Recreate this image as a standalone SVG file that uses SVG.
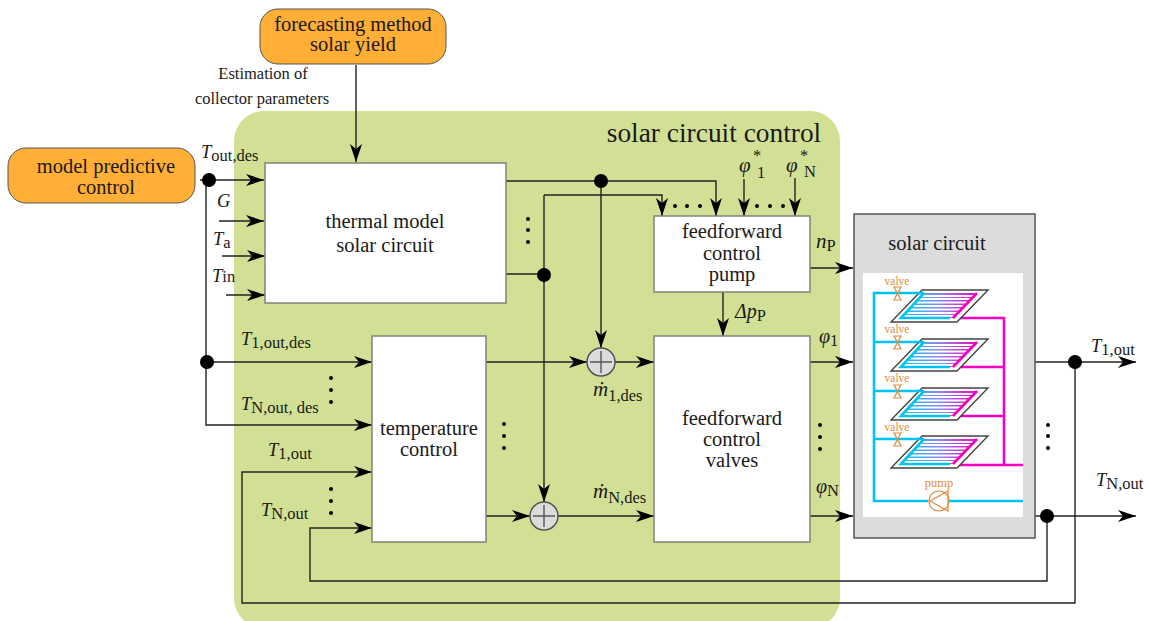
<svg xmlns="http://www.w3.org/2000/svg" xmlns:xlink="http://www.w3.org/1999/xlink" width="1150" height="621" viewBox="0 0 1150 621">
<style>
text{font-family:"Liberation Serif","Times New Roman",serif;fill:#1a1a1a;font-size:20.500px;text-anchor:middle}
.l{font-size:16.500px;text-anchor:start}
.i{font-style:italic;font-size:18.500px}
.s{font-size:16.500px}
.box{fill:#fff;stroke:#7f8478;stroke-width:1.5}
.org{fill:#ffae36;stroke:#555;stroke-width:1}
.w{fill:none;stroke:#222;stroke-width:1.4}
.a{marker-end:url(#arr)}
.dot{fill:#000}
.sum{fill:#dcdcdc;stroke:#555;stroke-width:1.5}
.pl{fill:none;stroke:#555;stroke-width:1.4}
.cy{fill:none;stroke:#00c3f5;stroke-width:2.6}
.mg{fill:none;stroke:#f500c0;stroke-width:2.6}
.or{fill:none;stroke:#e08a3c;stroke-width:1.2}
.ot{fill:#e08a3c;font-size:11.500px}
</style>
<defs>
<marker id="arr" markerUnits="userSpaceOnUse" markerWidth="20" markerHeight="14" refX="18" refY="7" orient="auto"><path d="M0 1 L18 7 L0 13 L5 7Z" fill="#000"/></marker>
<linearGradient id="g"><stop offset="0" stop-color="#00c8f8"/><stop offset=".5" stop-color="#8a8af0"/><stop offset="1" stop-color="#f800c0"/></linearGradient>
<g id="col">
<path d="M922 290H988L957 322H891Z" fill="#fff" stroke="#444" stroke-width="1.4"/>
<path d="M923 293H977L953 318H901Z" fill="url(#g)"/>
<path d="M920 296H973M917 299H970M914 302.500H967M911 306H964M908 309.500H961M905 313H957M902 316H954" stroke="#fff" stroke-width="1.9" fill="none"/>
<path d="M924 293L901 318H950" class="cy"/>
<path d="M977 293L953 318" class="mg"/>
</g>
</defs>
<rect x="234" y="111" width="606" height="517" rx="30" fill="#d2e096"/>
<g id="connectors">
<path class="w a" d="M356 65V162"/>
<path class="w a" d="M200 180H264"/>
<path class="w a" d="M206 180V425H372"/>
<path class="w a" d="M206 362H372"/>
<path class="w a" d="M219 221H264"/>
<path class="w a" d="M222 256H265"/>
<path class="w a" d="M226 295H265"/>
<path class="w a" d="M506 181H716V216"/>
<path class="w a" d="M601 181V348"/>
<path class="w" d="M506 274H544"/>
<path class="w a" d="M544 195H662V216"/>
<path class="w a" d="M544 195V502"/>
<path class="w a" d="M744 179V216"/>
<path class="w a" d="M795 178V216"/>
<path class="w a" d="M723 292V336"/>
<path class="w a" d="M810 268H853"/>
<path class="w a" d="M486 362H587"/>
<path class="w a" d="M615 362H654"/>
<path class="w a" d="M486 516H530"/>
<path class="w a" d="M558 516H654"/>
<path class="w a" d="M810 362H853"/>
<path class="w a" d="M810 516H853"/>
<path class="w a" d="M1035 362H1136"/>
<path class="w a" d="M1035 516H1136"/>
<path class="w a" d="M1075 362V603H242V472H372"/>
<path class="w a" d="M1047 516V581H310V528H372"/>
<circle class="dot" cx="209" cy="180" r="7"/>
<circle class="dot" cx="207" cy="362" r="7"/>
<circle class="dot" cx="601" cy="181" r="7"/>
<circle class="dot" cx="544" cy="275" r="7"/>
<circle class="dot" cx="1075" cy="362" r="7"/>
<circle class="dot" cx="1047" cy="516" r="7"/>
</g>
<g id="dots" class="dot">
<circle cx="528" cy="219" r="2"/><circle cx="528" cy="230" r="2"/><circle cx="528" cy="242" r="2"/>
<circle cx="675" cy="206" r="2"/><circle cx="687" cy="206" r="2"/><circle cx="700" cy="206" r="2"/>
<circle cx="757" cy="206" r="2"/><circle cx="770" cy="206" r="2"/><circle cx="783" cy="206" r="2"/>
<circle cx="331" cy="378" r="2"/><circle cx="331" cy="390" r="2"/><circle cx="331" cy="402" r="2"/>
<circle cx="504" cy="424" r="2"/><circle cx="504" cy="436" r="2"/><circle cx="504" cy="448" r="2"/>
<circle cx="331" cy="489" r="2"/><circle cx="331" cy="501" r="2"/><circle cx="331" cy="513" r="2"/>
<circle cx="820" cy="425" r="2"/><circle cx="820" cy="437" r="2"/><circle cx="820" cy="449" r="2"/>
<circle cx="1048" cy="425" r="2"/><circle cx="1048" cy="436" r="2"/><circle cx="1048" cy="448" r="2"/>
</g>
<g id="forecast"><rect class="org" x="260" y="9" width="186" height="55" rx="18"/><text x="353" y="31">forecasting method</text><text x="353" y="51">solar yield</text></g>
<g id="mpc"><rect class="org" x="8" y="148" width="187" height="55" rx="18"/><text x="106" y="173">model predictive</text><text x="106" y="194">control</text></g>
<g id="thermal"><rect class="box" x="265" y="163" width="241" height="140"/><text x="385" y="228">thermal model</text><text x="385" y="252">solar circuit</text></g>
<g id="temp"><rect class="box" x="372" y="336" width="114" height="206"/><text x="429" y="435">temperature</text><text x="429" y="456">control</text></g>
<g id="pump"><rect class="box" x="654" y="216" width="156" height="76"/><text x="732" y="238">feedforward</text><text x="732" y="260">control</text><text x="732" y="281">pump</text></g>
<g id="valves"><rect class="box" x="654" y="336" width="156" height="206"/><text x="732" y="425">feedforward</text><text x="732" y="446">control</text><text x="732" y="467">valves</text></g>
<g id="sum1"><circle class="sum" cx="601" cy="362" r="14"/><path class="pl" d="M590 362H612M601 351V373"/></g>
<g id="sum2"><circle class="sum" cx="544" cy="516" r="14"/><path class="pl" d="M533 516H555M544 505V527"/></g>
<g id="solar">
<rect x="854" y="214" width="181" height="324" fill="#dcdcdc" stroke="#555" stroke-width="1.5"/>
<text x="937" y="250">solar circuit</text>
<rect x="863" y="273" width="160" height="244" fill="#fff"/>
<path class="mg" d="M953 318H1004V465M953 367H1004M953 416H1004M953 465H1023"/>
<use xlink:href="#col" href="#col"/>
<use xlink:href="#col" href="#col" y="49"/>
<use xlink:href="#col" href="#col" y="98"/>
<use xlink:href="#col" href="#col" y="146"/>
<path class="cy" d="M924 293H874V501H928M949 501H1023M874 342H924M874 391H924M874 439H924"/>
<path class="or" d="M894 287h7l-7 13h7zM894 336h7l-7 13h7zM894 385h7l-7 13h7zM894 433h7l-7 13h7z" style="fill:#fff"/>
<circle class="or" cx="939" cy="501" r="10" style="fill:#fff"/><path class="or" d="M948 491V511L930 501Z"/>
<text class="ot" x="897" y="285">valve</text><text class="ot" x="897" y="333">valve</text><text class="ot" x="897" y="382">valve</text><text class="ot" x="897" y="431">valve</text>
<text class="ot" x="939" y="487" style="font-size:12.500px">pump</text>
</g>
<g id="labels">
<text x="263" y="79" style="font-size:16.500px">Estimation of</text>
<text x="262" y="104" style="font-size:16.500px">collector parameters</text>
<text x="714" y="142" style="font-size:27.400px">solar circuit control</text>
<text class="l" x="201" y="158"><tspan class="i">T</tspan><tspan class="s" dy="3">out,des</tspan></text>
<text class="l i" x="217" y="207">G</text>
<text class="l" x="213" y="245"><tspan class="i">T</tspan><tspan class="s" dy="3">a</tspan></text>
<text class="l" x="212" y="282"><tspan class="i">T</tspan><tspan class="s">in</tspan></text>
<text class="l" x="241" y="345"><tspan class="i">T</tspan><tspan class="s" dy="3">1,out,des</tspan></text>
<text class="l" x="241" y="410"><tspan class="i">T</tspan><tspan class="s" dy="3">N,out, des</tspan></text>
<text class="l" x="268" y="456"><tspan class="i">T</tspan><tspan class="s" dy="3">1,out</tspan></text>
<text class="l" x="261" y="516"><tspan class="i">T</tspan><tspan class="s" dy="3">N,out</tspan></text>
<text class="l" x="1091" y="352"><tspan class="i">T</tspan><tspan class="s" dy="3">1,out</tspan></text>
<text class="l" x="1096" y="486"><tspan class="i">T</tspan><tspan class="s" dy="3">N,out</tspan></text>
<text class="l" x="593" y="396"><tspan class="i" style="font-size:21px">ṁ</tspan><tspan class="s" dy="5">1,des</tspan></text>
<text class="l" x="593" y="498"><tspan class="i" style="font-size:21px">ṁ</tspan><tspan class="s" dy="5">N,des</tspan></text>
<text class="l" x="739" y="172"><tspan class="i" style="font-size:21px">φ</tspan><tspan class="s" x="753" y="161">*</tspan><tspan class="s" x="757" y="178">1</tspan></text>
<text class="l" x="786" y="172"><tspan class="i" style="font-size:21px">φ</tspan><tspan class="s" x="800" y="161">*</tspan><tspan class="s" x="804" y="177">N</tspan></text>
<text class="l" x="816" y="248"><tspan class="i" style="font-size:21px">n</tspan><tspan class="s" dy="3">P</tspan></text>
<text class="l" x="735" y="318"><tspan class="i" style="font-size:20px">Δp</tspan><tspan class="s" dy="3">P</tspan></text>
<text class="l" x="819" y="343"><tspan class="i" style="font-size:20px">φ</tspan><tspan class="s" dy="3">1</tspan></text>
<text class="l" x="816" y="493"><tspan class="i" style="font-size:20px">φ</tspan><tspan class="s" dy="3">N</tspan></text>
</g>
</svg>
